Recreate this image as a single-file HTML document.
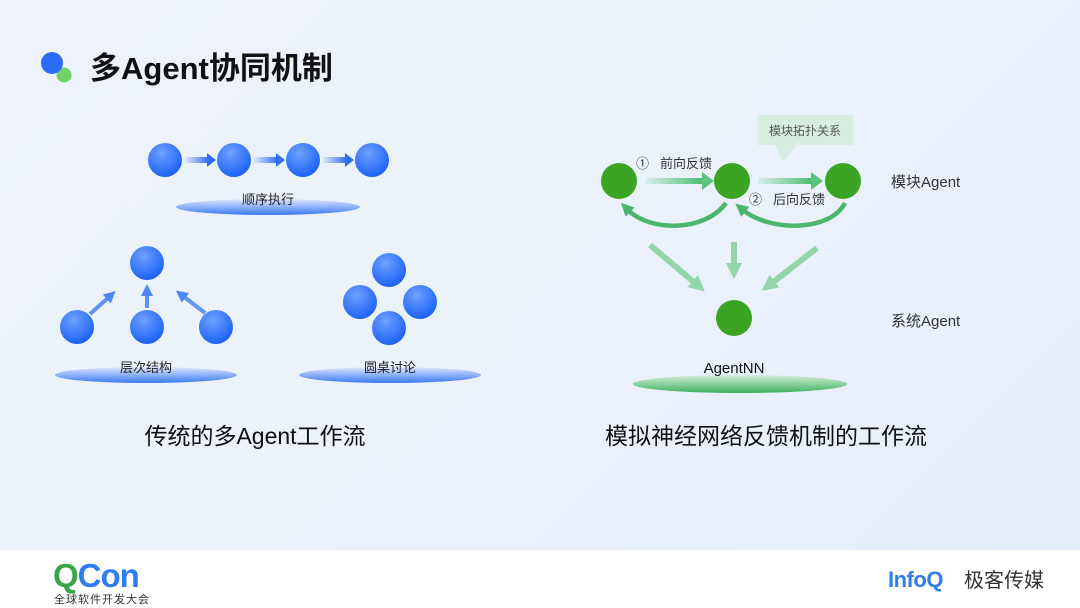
<!DOCTYPE html>
<html><head><meta charset="utf-8"><style>
html,body{margin:0;padding:0;}
body{width:1080px;height:608px;overflow:hidden;font-family:"Liberation Sans","Noto Sans CJK SC",sans-serif;background:linear-gradient(135deg,#eef3fb,#eaf1fa 60%,#e4edf8);}
</style></head><body>
<svg width="1080" height="608" xmlns="http://www.w3.org/2000/svg" style="position:absolute;left:0;top:0">
<defs>
<radialGradient id="bg" cx="0.4" cy="0.3" r="0.7"><stop offset="0" stop-color="#6ea2ff"/><stop offset="1" stop-color="#1c62f5"/></radialGradient>
<linearGradient id="bl" x1="0" y1="0" x2="0" y2="1"><stop offset="0" stop-color="#dde8fd"/><stop offset="1" stop-color="#3c78f3"/></linearGradient>
<linearGradient id="gl" x1="0" y1="0" x2="0" y2="1"><stop offset="0" stop-color="#d6eedc"/><stop offset="1" stop-color="#3fb25e"/></linearGradient>
<linearGradient id="ah" x1="0" x2="1"><stop offset="0" stop-color="#3c78f3" stop-opacity="0.1"/><stop offset="1" stop-color="#3c78f3"/></linearGradient>
<linearGradient id="gh" x1="0" x2="1"><stop offset="0" stop-color="#4cc070" stop-opacity="0.1"/><stop offset="1" stop-color="#4cc070"/></linearGradient>
<marker id="mb" markerUnits="userSpaceOnUse" markerWidth="12" markerHeight="12" refX="3" refY="6" orient="auto"><path d="M0,0L12,6L0,12z" fill="#3572f3"/></marker>
<marker id="mg" markerUnits="userSpaceOnUse" markerWidth="16" markerHeight="16" refX="3" refY="8" orient="auto"><path d="M0,0L16,8L0,16z" fill="#7fcf97"/></marker>
<marker id="mg2" markerUnits="userSpaceOnUse" markerWidth="13" markerHeight="13" refX="3" refY="6.5" orient="auto"><path d="M0,0L13,6.5L0,13z" fill="#3bb05d"/></marker>
</defs>
<circle cx="64" cy="75" r="7.5" fill="#6fd36a"/>
<circle cx="52" cy="63" r="11" fill="#2a6cf2"/>
<text x="90" y="79" font-size="31" font-weight="bold" fill="#111">多Agent协同机制</text>
<g fill="url(#bg)"><circle cx="165" cy="160" r="17"/><circle cx="234" cy="160" r="17"/><circle cx="303" cy="160" r="17"/><circle cx="372" cy="160" r="17"/></g>
<g fill="url(#ah)"><rect x="185" y="157" width="22" height="6"/><rect x="254" y="157" width="22" height="6"/><rect x="323" y="157" width="22" height="6"/></g>
<g fill="#2f6ff3"><path d="M207,153L216,160L207,167z"/><path d="M276,153L285,160L276,167z"/><path d="M345,153L354,160L345,167z"/></g>
<ellipse cx="268" cy="207" rx="92" ry="8" fill="url(#bl)"/>
<text x="268" y="204" font-size="13" text-anchor="middle" fill="#222">顺序执行</text>
<g fill="url(#bg)"><circle cx="147" cy="263" r="17"/><circle cx="77" cy="327" r="17"/><circle cx="147" cy="327" r="17"/><circle cx="216" cy="327" r="17"/></g>
<g stroke="#4a82f3" stroke-width="4" marker-end="url(#mb)" opacity="0.85"><line x1="90" y1="314" x2="109" y2="297"/><line x1="147" y1="308" x2="147" y2="293"/><line x1="205" y1="313" x2="183" y2="296"/></g>
<ellipse cx="146" cy="375" rx="91" ry="8" fill="url(#bl)"/>
<text x="146" y="372" font-size="13" text-anchor="middle" fill="#222">层次结构</text>
<g fill="url(#bg)"><circle cx="389" cy="270" r="17"/><circle cx="360" cy="302" r="17"/><circle cx="420" cy="302" r="17"/><circle cx="389" cy="328" r="17"/></g>
<ellipse cx="390" cy="375" rx="91" ry="8" fill="url(#bl)"/>
<text x="390" y="372" font-size="13" text-anchor="middle" fill="#222">圆桌讨论</text>
<text x="255" y="444" font-size="23" text-anchor="middle" fill="#111">传统的多Agent工作流</text>
<path d="M757,115H853V145H797L783,162L775,145H757z" fill="#d6ecdc" opacity="0.9"/>
<text x="805" y="135" font-size="12" text-anchor="middle" fill="#555">模块拓扑关系</text>
<g fill="url(#gh)"><rect x="646" y="178" width="56" height="6"/><rect x="758" y="178" width="53" height="6"/></g>
<g fill="#5cc47d"><path d="M702,172L714,181L702,190z"/><path d="M811,172L823,181L811,190z"/></g>
<g fill="none" stroke="#3bb05d" stroke-width="4.5" marker-end="url(#mg2)" opacity="0.9">
<path d="M726,203C705,232 650,232 628,210"/>
<path d="M845,203C830,232 770,232 743,210"/>
</g>
<g stroke="#7fcf97" stroke-width="6" marker-end="url(#mg)" opacity="0.8">
<line x1="650" y1="245" x2="695" y2="283"/><line x1="734" y1="242" x2="734" y2="266"/><line x1="817" y1="248" x2="772" y2="283"/>
</g>
<g fill="#3ca423"><circle cx="619" cy="181" r="18"/><circle cx="732" cy="181" r="18"/><circle cx="843" cy="181" r="18"/><circle cx="734" cy="318" r="18"/></g>
<text x="636" y="168" font-size="13" fill="#333">①</text><text x="660" y="168" font-size="13" fill="#333">前向反馈</text>
<text x="749" y="204" font-size="13" fill="#333">②</text><text x="773" y="204" font-size="13" fill="#333">后向反馈</text>
<text x="891" y="187" font-size="15" fill="#333">模块Agent</text>
<text x="891" y="326" font-size="15" fill="#333">系统Agent</text>
<ellipse cx="740" cy="384" rx="107" ry="9" fill="url(#gl)"/>
<text x="734" y="373" font-size="15" text-anchor="middle" fill="#111">AgentNN</text>
<text x="766" y="444" font-size="23" text-anchor="middle" fill="#111">模拟神经网络反馈机制的工作流</text>
<rect x="0" y="550" width="1080" height="58" fill="#fff"/>
<text x="53" y="587" font-size="33" font-weight="bold" fill="#3aa546" letter-spacing="-1">Q<tspan fill="#2f7df2">Con</tspan></text>
<text x="54" y="603" font-size="11" fill="#333" letter-spacing="1">全球软件开发大会</text>
<text x="888" y="587" font-size="22" font-weight="bold" fill="#2f7df2" letter-spacing="-0.5">InfoQ</text>
<text x="964" y="587" font-size="20" fill="#333">极客传媒</text>
</svg>
</body></html>
